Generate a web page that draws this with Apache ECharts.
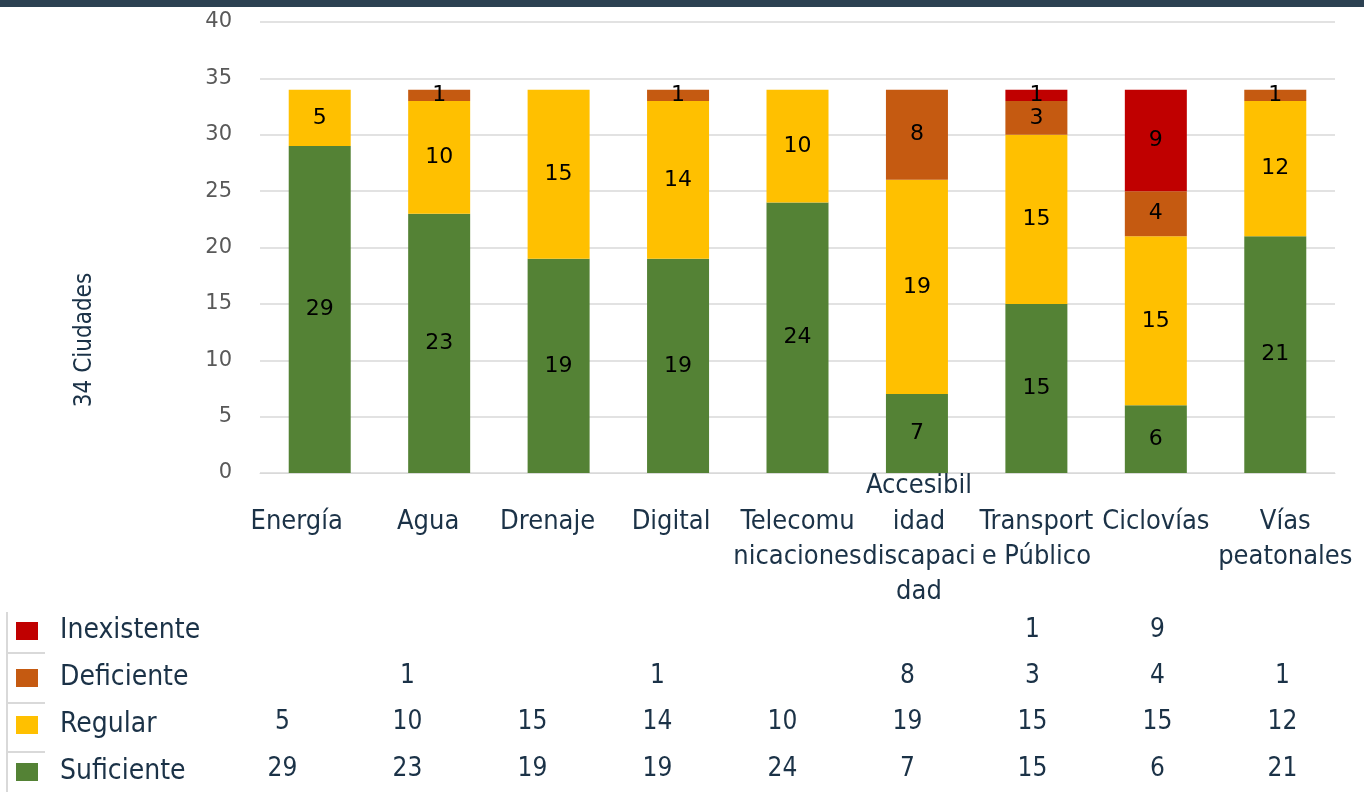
<!DOCTYPE html>
<html>
<head>
<meta charset="utf-8">
<script src="https://cdn.jsdelivr.net/npm/echarts@6/dist/echarts.min.js"></script>
<style>
  html, body { margin: 0; padding: 0; background: #fff; }
  #chart { width: 1364px; height: 792px; }
</style>
</head>
<body>
<div id="chart"></div>
<script>
// categorias (con los cortes de linea que tiene la grafica)
const categories = ['Energía', 'Agua', 'Drenaje', 'Digital', 'Telecomu\nnicaciones', 'Accesibil\nidad\ndiscapaci\ndad', 'Transport\ne Público', 'Ciclovías', 'Vías\npeatonales']
const yTicks = [0, 5, 10, 15, 20, 25, 30, 35, 40]

const suficiente = [29, 23, 19, 19, 24, 7, 15, 6, 21]
const regular = [5, 10, 15, 14, 10, 19, 15, 15, 12]
const deficiente = [null, 1, null, 1, null, 8, 3, 4, 1]
const inexistente = [null, null, null, null, null, null, 1, 9, null]

const colors = {
  Suficiente: '#548235',
  Regular: '#FFC000',
  Deficiente: '#C55A11',
  Inexistente: '#C00000'
}
const navy = '#1b3247'
const font = '"DejaVu Sans Condensed", "DejaVu Sans", sans-serif'
// corrimiento horizontal de las etiquetas, como en el original
const labelShift = [-23, -11, -11, -7, 0, 2, 0, 0, 10]

const rows = [
  { name: 'Suficiente', data: suficiente },
  { name: 'Regular', data: regular },
  { name: 'Deficiente', data: deficiente },
  { name: 'Inexistente', data: inexistente }
]

function axisData() {
  return categories.map(function (c, i) {
    const s = labelShift[i]
    return {
      value: c,
      textStyle: { padding: s < 0 ? [0, -2 * s, 0, 0] : [0, 0, 0, 2 * s] }
    }
  })
}

const myChart = echarts.init(document.getElementById('chart'))

const series = []
rows.forEach(function (r) {
  series.push({
    name: r.name,
    type: 'bar',
    stack: 'total',
    barWidth: 62,
    xAxisIndex: 0,
    yAxisIndex: 0,
    itemStyle: { color: colors[r.name] },
    label: {
      show: true,
      position: 'inside',
      color: '#000',
      fontSize: 22,
      fontFamily: 'DejaVu Sans'
    },
    data: r.data
  })
})

// tabla de datos debajo, un renglon por serie
rows.forEach(function (r, ri) {
  const pts = []
  r.data.forEach(function (v, i) {
    if (v != null) pts.push([i, ri, v])
  })
  series.push({
    name: r.name + '_tabla',
    type: 'scatter',
    xAxisIndex: 2,
    yAxisIndex: 1,
    symbolSize: 0,
    silent: true,
    itemStyle: { opacity: 1 },
    label: {
      show: true,
      position: 'inside',
      color: navy,
      fontSize: 26,
      fontFamily: font,
      formatter: function (p) { return p.data[2] }
    },
    data: pts
  })
})

myChart.setOption({
  animation: false,
  legend: {
    data: ['Inexistente', 'Deficiente', 'Regular', 'Suficiente'],
    orient: 'vertical',
    left: 16,
    top: 616,
    height: 200,
    padding: 0,
    itemWidth: 22,
    itemHeight: 18,
    itemGap: 17,
    icon: 'rect',
    selectedMode: false,
    textStyle: {
      color: navy,
      fontSize: 28,
      fontFamily: font,
      lineHeight: 30,
      padding: [0, 0, 0, 17]
    }
  },
  grid: [
    { left: 260, right: 29, top: 22, bottom: 319 },
    { left: 220, right: 19, top: 607, bottom: 0 }
  ],
  xAxis: [
    {
      type: 'category',
      gridIndex: 0,
      data: axisData(),
      axisLine: { lineStyle: { color: '#d9d9d9' } },
      axisTick: { length: 10, lineStyle: { color: '#d9d9d9' } },
      axisLabel: {
        interval: 0,
        margin: 31,
        color: navy,
        fontSize: 27,
        lineHeight: 35,
        fontFamily: font,
        formatter: function (v) {
          const lines = v.split('\n')
          return lines.length > 3 ? lines.slice(1).join('\n') : v
        }
      }
    },
    {
      type: 'category',
      gridIndex: 0,
      position: 'bottom',
      data: axisData(),
      axisLine: { show: false },
      axisTick: { show: false },
      axisLabel: {
        interval: 0,
        margin: 1,
        color: navy,
        fontSize: 27,
        lineHeight: 24,
        fontFamily: font,
        formatter: function (v) {
          const lines = v.split('\n')
          return lines.length > 3 ? lines[0] : ''
        }
      }
    },
    {
      type: 'category',
      gridIndex: 1,
      data: categories,
      show: false
    }
  ],
  yAxis: [
    {
      type: 'value',
      gridIndex: 0,
      min: yTicks[0],
      max: yTicks[yTicks.length - 1],
      interval: 5,
      axisLine: { show: false },
      axisTick: { show: false },
      splitLine: { lineStyle: { color: '#d9d9d9', width: 1.5 } },
      axisLabel: {
        margin: 28,
        color: '#595959',
        fontSize: 21,
        fontFamily: 'DejaVu Sans'
      }
    },
    {
      type: 'category',
      gridIndex: 1,
      data: rows.map(function (r) { return r.name }),
      show: false
    }
  ],
  graphic: [
    {
      type: 'rect',
      left: 0,
      top: 0,
      shape: { width: 1364, height: 7 },
      style: { fill: '#2c4152' }
    },
    {
      type: 'text',
      x: 85,
      y: 340,
      rotation: Math.PI / 2,
      style: {
        text: '34 Ciudades',
        fill: navy,
        font: '24px ' + font,
        align: 'center',
        verticalAlign: 'middle'
      }
    },
    // bordes de la tabla junto a la leyenda
    { type: 'line', shape: { x1: 7, y1: 612, x2: 7, y2: 792 }, style: { stroke: '#d9d9d9', lineWidth: 2 } },
    { type: 'line', shape: { x1: 7, y1: 653, x2: 45, y2: 653 }, style: { stroke: '#d9d9d9', lineWidth: 2 } },
    { type: 'line', shape: { x1: 7, y1: 703, x2: 45, y2: 703 }, style: { stroke: '#d9d9d9', lineWidth: 2 } },
    { type: 'line', shape: { x1: 7, y1: 752, x2: 45, y2: 752 }, style: { stroke: '#d9d9d9', lineWidth: 2 } }
  ],
  series: series
})
</script>
</body>
</html>
